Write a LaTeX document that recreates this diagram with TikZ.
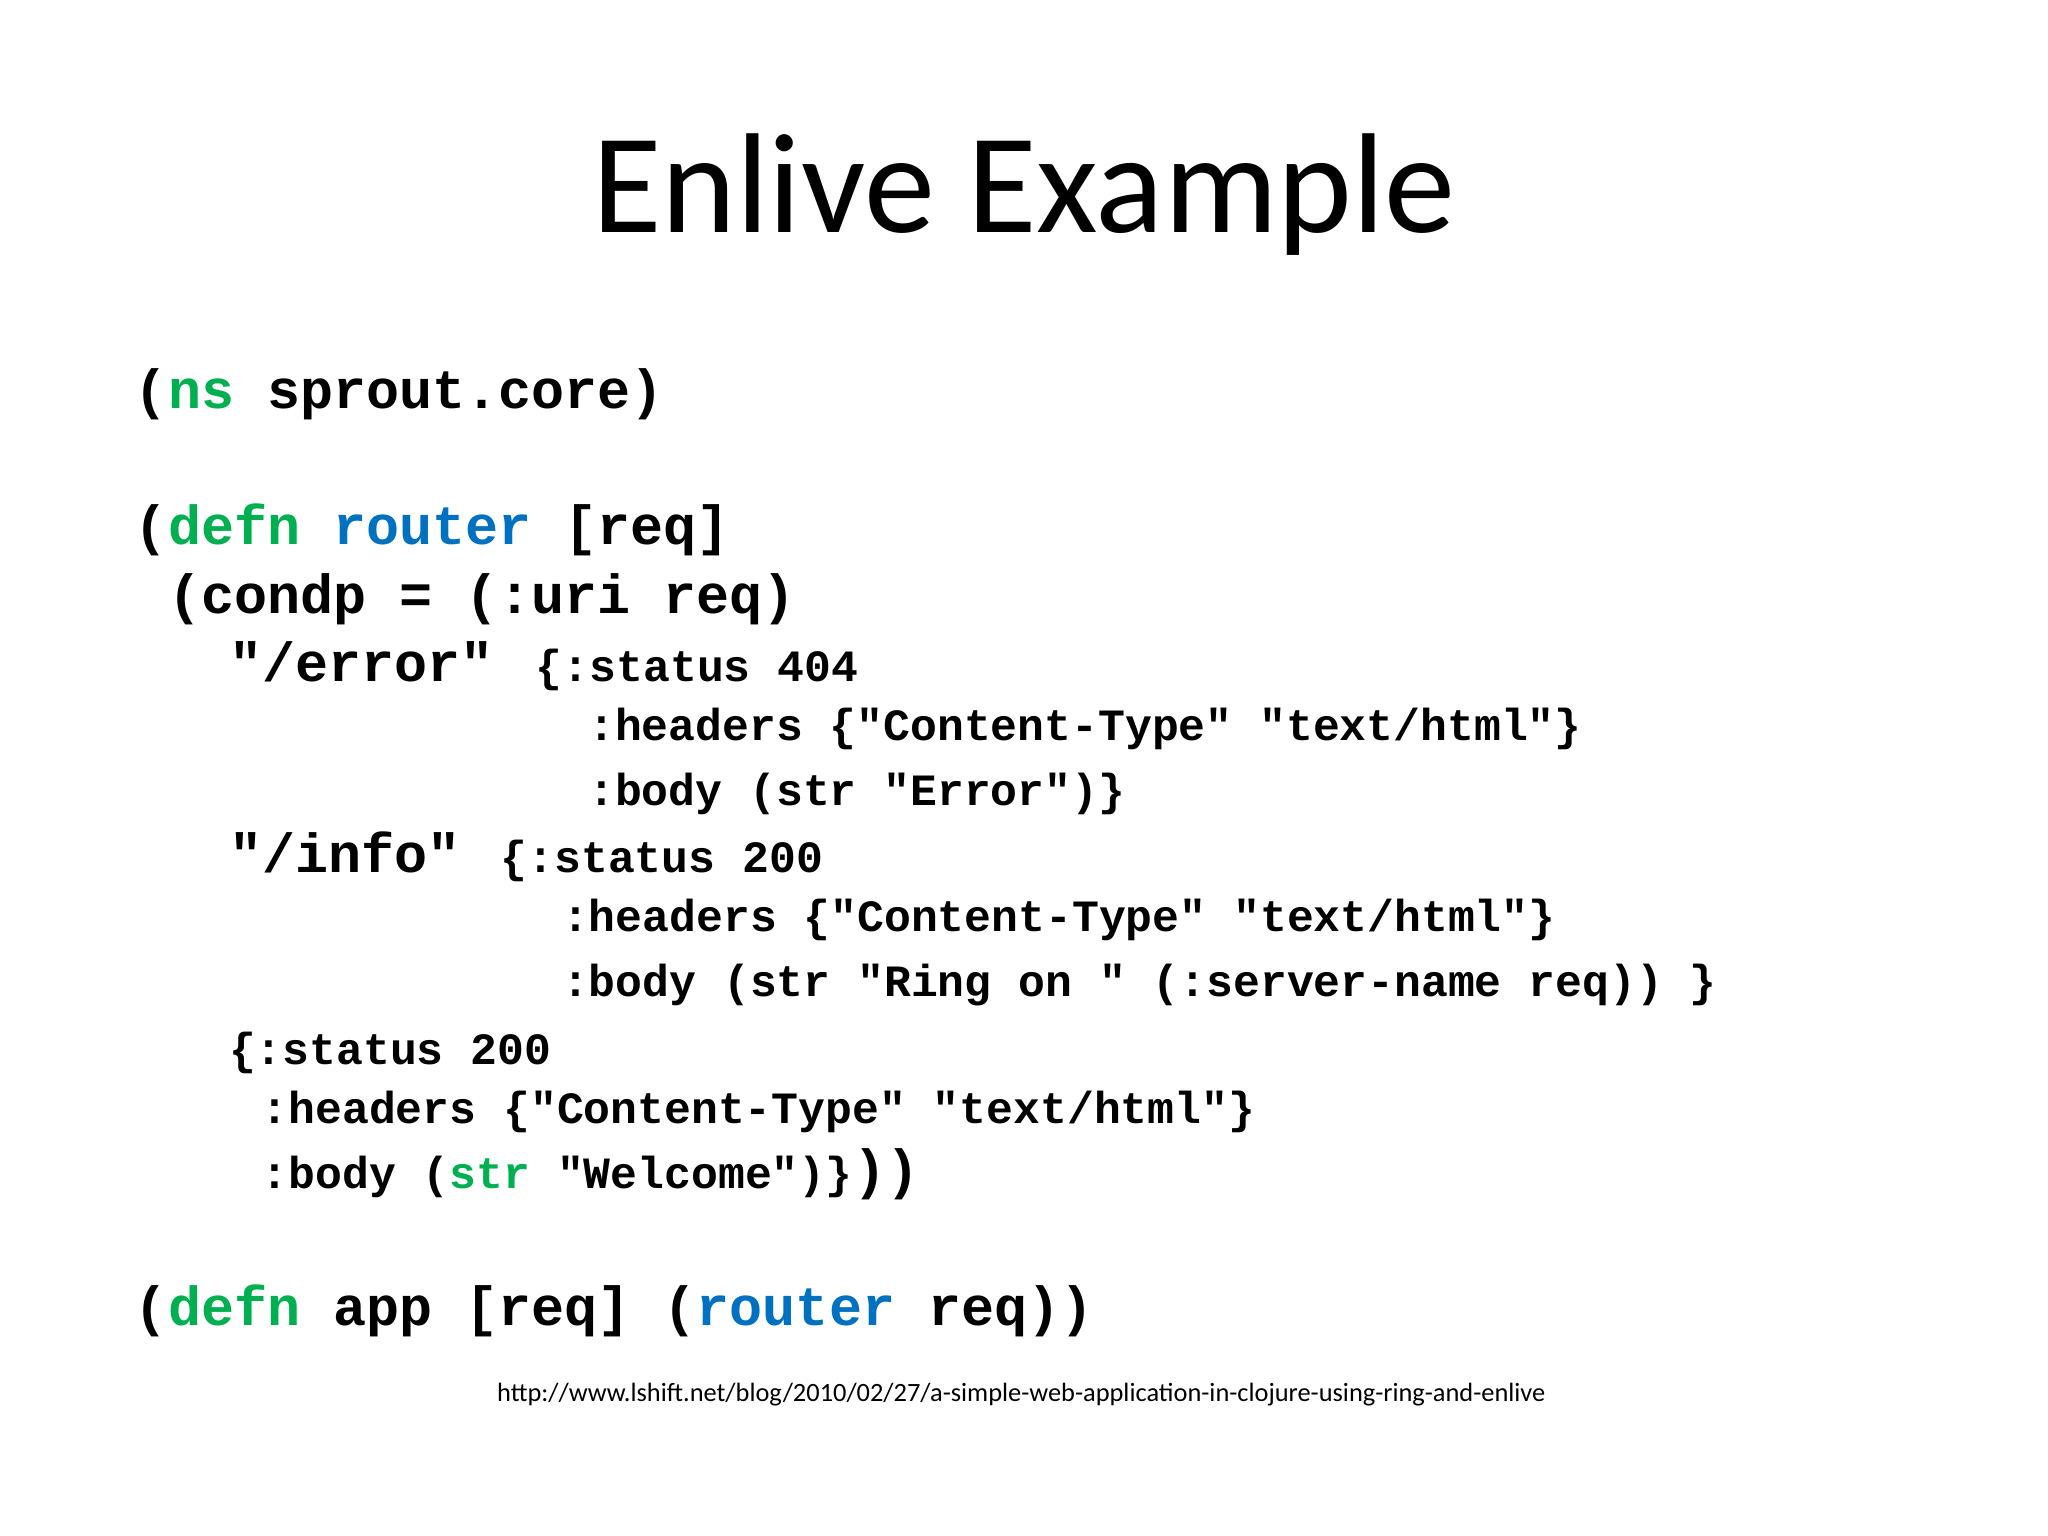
\documentclass[tikz,border=0pt]{standalone}
\usepackage{fontspec}
\setmainfont{Carlito}
\newfontfamily\cmono{Liberation Mono}
\definecolor{kgreen}{RGB}{0,176,80}
\definecolor{kblue}{RGB}{0,112,192}
\tikzset{big/.style={anchor=base west,inner sep=0pt,font=\cmono\bfseries\fontsize{24}{24}\selectfont},
small/.style={anchor=base west,inner sep=0pt,font=\cmono\bfseries\fontsize{19.5}{19.5}\selectfont}}
\newcommand{\G}[1]{\textcolor{kgreen}{#1}}
\newcommand{\B}[1]{\textcolor{kblue}{#1}}
\begin{document}
\begin{tikzpicture}[x=0.02cm,y=-0.02cm]
\useasboundingbox (0,0) rectangle (1568,1176);
\node[anchor=base,inner sep=0pt,font=\fontsize{62}{62}\selectfont] (title) at (784,178) {Enlive Example};
\node[big] (l1) at (103,313) {(\G{ns} sprout.core)};
\node[big] (l2) at (103,417) {(\G{defn} \B{router} [req]};
\node[big] (l3) at (103,470) {\ (condp = (:uri req)};
\node[big] (l4) at (175,522) {"/error"};
\node[small] (l4b) at (410,522) {\{:status 404};
\node[small] (l5) at (450,567) {:headers \{"Content-Type" "text/html"\}};
\node[small] (l6) at (450,617) {:body (str "Error")\}};
\node[big] (l7) at (175,668) {"/info"};
\node[small] (l7b) at (383,668) {\{:status 200};
\node[small] (l8) at (430,713) {:headers \{"Content-Type" "text/html"\}};
\node[small] (l9) at (430,763) {:body (str "Ring on " (:server-name req)) \}};
\node[small] (l10) at (175,815) {\{:status 200};
\node[small] (l11) at (200,860) {:headers \{"Content-Type" "text/html"\}};
\node[small] (l12) at (200,910) {:body (\G{str} "Welcome")\}};
\node[big] (l12b) at (l12.base east) [anchor=base west] {))};
\node[big] (l13) at (103,1015) {(\G{defn} app [req] (\B{router} req))};
\node[anchor=base,inner sep=0pt,font=\fontsize{11.5}{11.5}\selectfont] (url) at (782,1073) {http://www.lshift.net/blog/2010/02/27/a-simple-web-application-in-clojure-using-ring-and-enlive};
\end{tikzpicture}
\end{document}
